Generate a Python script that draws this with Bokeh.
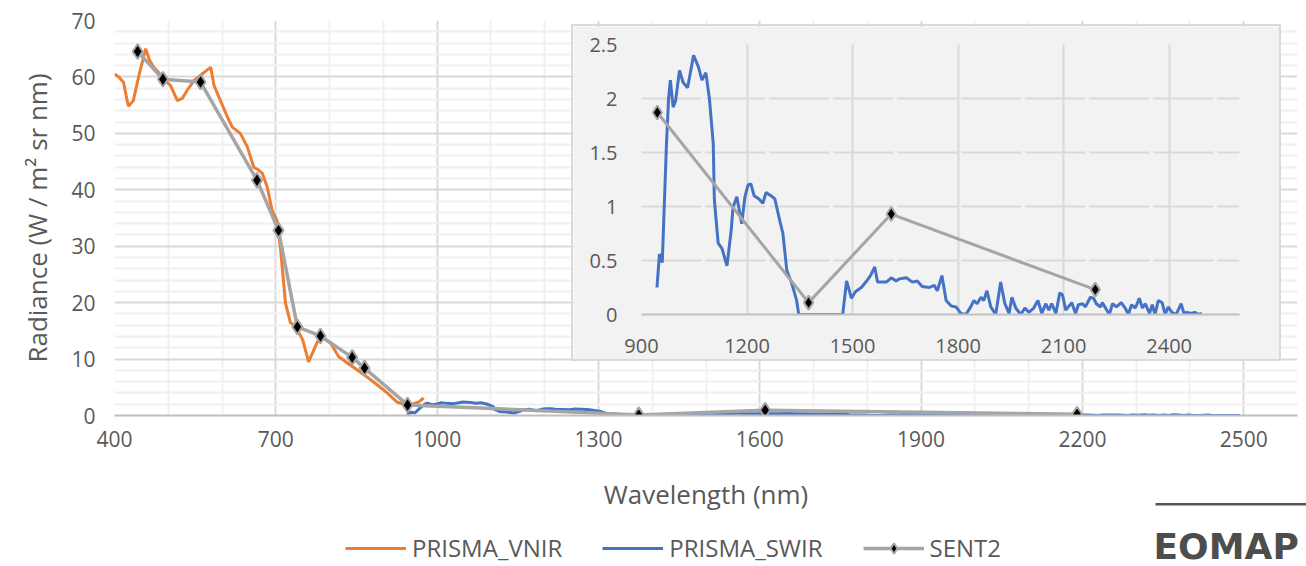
import numpy as np
from bokeh.plotting import figure
from bokeh.models import (Range1d, FixedTicker, NumeralTickFormatter, Legend,
                          LegendItem, Label, BoxAnnotation)
from bokeh.embed import file_html
from bokeh.resources import INLINE

# ---------------- data ----------------
vnir_wl = [400, 408, 417, 422, 426, 435, 446, 458, 465, 473, 482, 492, 504, 517, 526,
           535, 548, 560, 572, 579, 585, 597, 610, 619, 634, 647, 659, 668, 675, 684,
           693, 702, 709, 718, 727, 737, 750, 761, 777, 789, 802, 817, 833, 851, 870,
           889, 907, 925, 941, 954, 966, 975]
vnir_rad = [60.5, 60.0, 59.0, 56.5, 54.8, 55.8, 60.5, 65.0, 63.0, 61.7, 60.8, 59.5, 58.5,
            55.8, 56.2, 57.6, 59.4, 60.3, 61.2, 61.7, 58.5, 55.8, 52.9, 51.1, 50.0, 47.6,
            44.0, 43.5, 42.9, 40.5, 36.4, 34.6, 29.3, 19.9, 16.5, 15.7, 13.4, 9.5, 13.0,
            13.7, 12.8, 10.4, 9.3, 8.1, 6.8, 5.4, 4.0, 2.4, 1.9, 2.0, 2.4, 3.1]

swir_wl = [944, 951, 959, 971, 977, 982, 990, 997, 1008, 1018, 1031, 1048, 1062, 1072,
           1083, 1093, 1104, 1107, 1109, 1118, 1129, 1143, 1155, 1160, 1171, 1185, 1194,
           1203, 1211, 1220, 1234, 1245, 1254, 1268, 1279, 1293, 1302, 1313, 1327, 1341,
           1347, 1400, 1472, 1483, 1497, 1508, 1525, 1540, 1551, 1563, 1571, 1596, 1610,
           1624, 1633, 1653, 1670, 1684, 1698, 1718, 1732, 1741, 1754, 1766, 1780, 1794,
           1808, 1822, 1836, 1845, 1854, 1865, 1873, 1882, 1893, 1907, 1921, 1933, 1945,
           1953, 1964, 1978, 1990, 2001, 2015, 2027, 2038, 2049, 2058, 2066, 2078, 2089,
           2097, 2106, 2123, 2134, 2142, 2154, 2162, 2176, 2185, 2193, 2205, 2210, 2219,
           2230, 2239, 2250, 2264, 2275, 2284, 2293, 2304, 2315, 2324, 2332, 2344, 2352,
           2360, 2369, 2380, 2389, 2397, 2408, 2420, 2434, 2442, 2451, 2462, 2473, 2482,
           2493]
swir_rad = [0.25, 0.56, 0.48, 1.58, 2.0, 2.17, 1.92, 1.98, 2.26, 2.15, 2.1, 2.4, 2.29,
            2.17, 2.24, 2.0, 1.58, 1.08, 0.99, 0.66, 0.61, 0.45, 0.78, 0.99, 1.09, 0.84,
            1.09, 1.2, 1.21, 1.1, 1.07, 1.03, 1.13, 1.1, 1.07, 0.87, 0.75, 0.41, 0.29,
            0.13, 0.0, 0.0, 0.0, 0.31, 0.15, 0.21, 0.25, 0.31, 0.36, 0.44, 0.30, 0.30,
            0.34, 0.31, 0.33, 0.34, 0.30, 0.31, 0.26, 0.25, 0.27, 0.22, 0.36, 0.13, 0.08,
            0.07, 0.01, 0.0, 0.07, 0.13, 0.10, 0.16, 0.13, 0.22, 0.07, 0.0, 0.30, 0.10,
            0.01, 0.16, 0.06, 0.0, 0.06, 0.02, 0.06, 0.13, 0.01, 0.10, 0.04, 0.10, 0.01,
            0.20, 0.18, 0.04, 0.11, 0.01, 0.09, 0.10, 0.07, 0.16, 0.15, 0.10, 0.07, 0.11,
            0.06, 0.0, 0.10, 0.07, 0.11, 0.06, 0.0, 0.09, 0.06, 0.15, 0.06, 0.10, 0.01,
            0.09, 0.0, 0.13, 0.11, 0.0, 0.07, 0.02, 0.0, 0.10, 0.01, 0.02, 0.01, 0.02,
            0.0, 0.01]

s2_wl = [443, 490, 560, 665, 705, 740, 783, 842, 865, 945, 1375, 1610, 2190]
s2_rad = [64.5, 59.6, 59.1, 41.7, 32.8, 15.7, 14.1, 10.3, 8.4, 1.87, 0.11, 0.93, 0.23]

main_xticks = [400, 700, 1000, 1300, 1600, 1900, 2200, 2500]
main_yticks = [0, 10, 20, 30, 40, 50, 60, 70]
inset_xticks = [900, 1200, 1500, 1800, 2100, 2400]
inset_yticks = [0, 0.5, 1, 1.5, 2, 2.5]

series_names = ["PRISMA_VNIR", "PRISMA_SWIR", "SENT2"]

# ---------------- style ----------------
FONT = "Open Sans"
TXT = "#595959"
ORANGE = "#ED7D31"
BLUE = "#4472C4"
GREY = "#A5A5A5"
GRID = "#D9D9D9"
MINOR = "#F0F0F0"


def bare(fig):
    fig.outline_line_color = None
    fig.grid.visible = False
    fig.background_fill_color = "white"
    fig.border_fill_color = "white"


main_xminor = [v for v in range(400, 2601, 100) if v not in main_xticks]
main_yminor = [v for v in range(0, 71, 2) if v not in main_yticks]

main = figure(width=1306, height=566, x_range=Range1d(400, 2600), y_range=Range1d(0, 70),
              output_backend="svg", toolbar_location=None,
              min_border_left=114, min_border_right=9, min_border_top=20,
              min_border_bottom=151)
main.outline_line_color = None
main.background_fill_color = "white"
main.border_fill_color = "white"

main.xaxis.ticker = FixedTicker(ticks=main_xticks, minor_ticks=main_xminor)
main.yaxis.ticker = FixedTicker(ticks=main_yticks, minor_ticks=main_yminor)
for g in (main.xgrid, main.ygrid):
    g.grid_line_color = GRID
    g.grid_line_width = 2
    g.minor_grid_line_color = MINOR
    g.minor_grid_line_width = 2

for ax in (main.xaxis, main.yaxis):
    ax.major_tick_line_color = None
    ax.minor_tick_line_color = None
    ax.major_label_text_font = FONT
    ax.major_label_text_font_size = "21px"
    ax.major_label_text_color = TXT
    ax.axis_label_text_font = FONT
    ax.axis_label_text_font_size = "26px"
    ax.axis_label_text_font_style = "normal"
    ax.axis_label_text_color = TXT
main.xaxis.axis_line_color = "#BFBFBF"
main.xaxis.axis_line_width = 2
main.yaxis.axis_line_color = None
main.xaxis.axis_label = "Wavelength (nm)"
main.yaxis.axis_label = "Radiance (W / m\u00b2 sr nm)"
main.xaxis.major_label_standoff = 9
main.xaxis.axis_label_standoff = 26
main.yaxis.major_label_standoff = 13
main.yaxis.axis_label_standoff = 13

main.line(vnir_wl, vnir_rad, line_color=ORANGE, line_width=3)
main.line(swir_wl, swir_rad, line_color=BLUE, line_width=3)
main.line(s2_wl, s2_rad, line_color=GREY, line_width=3.5)
main.scatter(s2_wl, s2_rad, marker="diamond", size=15, fill_color="black",
             line_color=GREY, line_width=2)

# ---------------- legend strip (below the axis title) ----------------
# Same series are drawn here against a range that keeps them out of view;
# only the legend of this strip is visible.
leg = figure(width=720, height=46, output_backend="svg", toolbar_location=None,
             x_axis_location=None, y_axis_location=None,
             x_range=Range1d(0, 1), y_range=Range1d(-1, 0),
             min_border_left=0, min_border_right=0, min_border_top=0,
             min_border_bottom=0,
             styles={"position": "absolute", "left": "330px", "top": "520px"})
bare(leg)
k_v = leg.line(vnir_wl, vnir_rad, line_color=ORANGE, line_width=3)
k_s = leg.line(swir_wl, swir_rad, line_color=BLUE, line_width=3)
k_l = leg.line(s2_wl, s2_rad, line_color=GREY, line_width=3.5)
k_m = leg.scatter(s2_wl, s2_rad, marker="diamond", size=13, fill_color="black",
                  line_color=GREY, line_width=2)
legend = Legend(items=[LegendItem(label=series_names[0], renderers=[k_v]),
                       LegendItem(label=series_names[1], renderers=[k_s]),
                       LegendItem(label=series_names[2], renderers=[k_l, k_m])],
                orientation="horizontal", location=(15, 2),
                padding=0, margin=0, spacing=40, label_standoff=6,
                glyph_width=61, glyph_height=26,
                border_line_color=None, background_fill_alpha=0,
                label_text_font=FONT, label_text_font_size="24px",
                label_text_color=TXT)
leg.add_layout(legend)

# ---------------- EOMAP logo ----------------
logo = figure(width=156, height=71, output_backend="svg", toolbar_location=None,
              x_axis_location=None, y_axis_location=None,
              x_range=Range1d(0, 1), y_range=Range1d(0, 1),
              min_border_left=0, min_border_right=0, min_border_top=0,
              min_border_bottom=0,
              styles={"position": "absolute", "left": "1150px", "top": "495px"})
bare(logo)
logo.add_layout(BoxAnnotation(left=5, right=160, bottom=61, top=63.5,
                              left_units="screen", right_units="screen",
                              bottom_units="screen", top_units="screen",
                              fill_color="#555555", fill_alpha=1, line_color=None))
logo.add_layout(Label(x=3, y=20, x_units="screen", y_units="screen", text="EOMAP",
                      text_font="DejaVu Sans", text_font_style="bold",
                      text_font_size="36px", text_color="#4D4D4D",
                      text_baseline="alphabetic"))

# ---------------- inset ----------------
s2_in = [(w, r) for w, r in zip(s2_wl, s2_rad) if w >= 900]
s2_in_wl = [w for w, r in s2_in]
s2_in_rad = [r for w, r in s2_in]

inset = figure(width=710, height=337, x_range=Range1d(900, 2600), y_range=Range1d(0, 2.5),
               output_backend="svg", toolbar_location=None,
               min_border_left=68, min_border_right=44, min_border_top=18,
               min_border_bottom=49,
               styles={"position": "absolute", "left": "571px", "top": "24px",
                       "border": "2px solid #D9D9D9"})
inset.background_fill_color = "#F2F2F2"
inset.border_fill_color = "#F2F2F2"
inset.outline_line_color = None
inset.xaxis.ticker = FixedTicker(ticks=inset_xticks)
inset.yaxis.ticker = FixedTicker(ticks=inset_yticks)
inset.yaxis.formatter = NumeralTickFormatter(format="0.[0]")
inset.xgrid.grid_line_color = GRID
inset.xgrid.grid_line_width = 2
inset.ygrid.grid_line_color = GRID
inset.ygrid.grid_line_width = 2
inset.ygrid.grid_line_dash = "60 4"
for ax in (inset.xaxis, inset.yaxis):
    ax.major_tick_line_color = None
    ax.minor_tick_line_color = None
    ax.major_label_text_font = FONT
    ax.major_label_text_font_size = "20px"
    ax.major_label_text_color = TXT
inset.xaxis.axis_line_color = "#BFBFBF"
inset.xaxis.axis_line_width = 2
inset.yaxis.axis_line_color = None
inset.xaxis.major_label_standoff = 18
inset.yaxis.major_label_standoff = 18

inset.line(swir_wl, swir_rad, line_color=BLUE, line_width=3)
inset.line(s2_in_wl, s2_in_rad, line_color=GREY, line_width=3)
inset.scatter(s2_in_wl, s2_in_rad, marker="diamond", size=14, fill_color="black",
              line_color=GREY, line_width=2)

open("out.html", "w").write(file_html([main, inset, leg, logo], INLINE))
